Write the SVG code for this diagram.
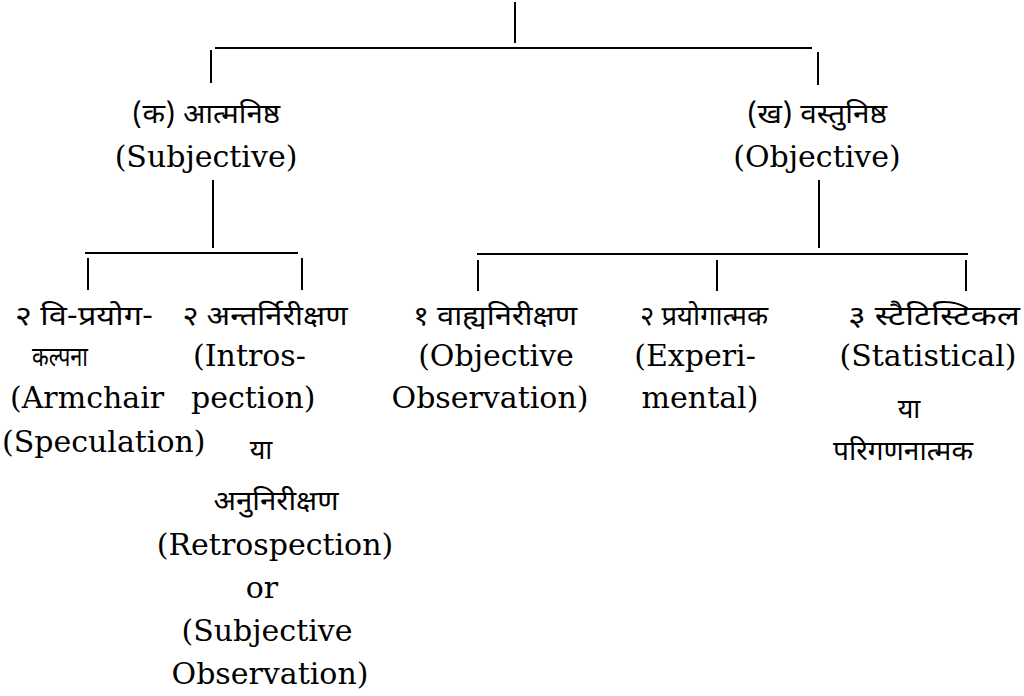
<svg xmlns="http://www.w3.org/2000/svg" width="1024" height="696" viewBox="0 0 1024 696">
<style>
.ln{stroke:#000;stroke-width:2;fill:none}
.en{font-family:"DejaVu Serif","Liberation Serif",serif;font-size:30px;fill:#000}
.hi{font-family:"Noto Sans Devanagari","Noto Serif Devanagari","Lohit Devanagari","Noto Sans",sans-serif;font-size:27px;fill:#000}
.m{text-anchor:middle}
</style>
<rect width="1024" height="696" fill="#fff"/>
<g id="connectors">
<line class="ln" x1="515" y1="2" x2="515" y2="43"/>
<line class="ln" x1="215" y1="48" x2="812" y2="48"/>
<line class="ln" x1="211" y1="50" x2="211" y2="83"/>
<line class="ln" x1="818" y1="52" x2="818" y2="85"/>
<line class="ln" x1="213" y1="180" x2="213" y2="248"/>
<line class="ln" x1="819" y1="180" x2="819" y2="248"/>
<line class="ln" x1="85" y1="253" x2="298" y2="253"/>
<line class="ln" x1="88" y1="258" x2="88" y2="290"/>
<line class="ln" x1="302" y1="258" x2="302" y2="290"/>
<line class="ln" x1="477" y1="254" x2="968" y2="254"/>
<line class="ln" x1="478" y1="260" x2="478" y2="291"/>
<line class="ln" x1="717" y1="260" x2="717" y2="291"/>
<line class="ln" x1="966" y1="260" x2="966" y2="291"/>
</g>
<g id="subjective">
<text class="hi m" x="206" y="123" textLength="148" lengthAdjust="spacingAndGlyphs">(क) आत्मनिष्ठ</text>
<text class="en m" x="206" y="167">(Subjective)</text>
</g>
<g id="objective">
<text class="hi m" x="817" y="123" textLength="140" lengthAdjust="spacingAndGlyphs">(ख) वस्तुनिष्ठ</text>
<text class="en m" x="817" y="167">(Objective)</text>
</g>
<g id="armchair">
<text class="hi m" x="84" y="325" textLength="138" lengthAdjust="spacingAndGlyphs">२ वि-प्रयोग-</text>
<text class="hi m" x="60" y="366" textLength="56" lengthAdjust="spacingAndGlyphs">कल्पना</text>
<text class="en" x="10" y="408">(Armchair</text>
<text class="en" x="2" y="452">(Speculation)</text>
</g>
<g id="introspection">
<text class="hi m" x="265" y="325" textLength="165" lengthAdjust="spacingAndGlyphs">२ अन्तर्निरीक्षण</text>
<text class="en" x="193" y="366">(Intros-</text>
<text class="en" x="191" y="408">pection)</text>
<text class="hi m" x="261" y="459">या</text>
<text class="hi m" x="276" y="510" textLength="125" lengthAdjust="spacingAndGlyphs">अनुनिरीक्षण</text>
<text class="en m" x="275" y="555">(Retrospection)</text>
<text class="en m" x="262" y="598">or</text>
<text class="en m" x="267" y="641">(Subjective</text>
<text class="en m" x="270" y="684">Observation)</text>
</g>
<g id="objective-observation">
<text class="hi m" x="495" y="325" textLength="164" lengthAdjust="spacingAndGlyphs">१ वाह्यनिरीक्षण</text>
<text class="en m" x="496" y="366">(Objective</text>
<text class="en m" x="490" y="408">Observation)</text>
</g>
<g id="experimental">
<text class="hi m" x="704" y="325" textLength="128" lengthAdjust="spacingAndGlyphs">२ प्रयोगात्मक</text>
<text class="en m" x="695" y="366">(Experi-</text>
<text class="en m" x="700" y="408">mental)</text>
</g>
<g id="statistical">
<text class="hi m" x="934" y="325" textLength="172" lengthAdjust="spacingAndGlyphs">३ स्टैटिस्टिकल</text>
<text class="en m" x="928" y="366">(Statistical)</text>
<text class="hi m" x="909" y="418">या</text>
<text class="hi m" x="903" y="460" textLength="140" lengthAdjust="spacingAndGlyphs">परिगणनात्मक</text>
</g>
</svg>
